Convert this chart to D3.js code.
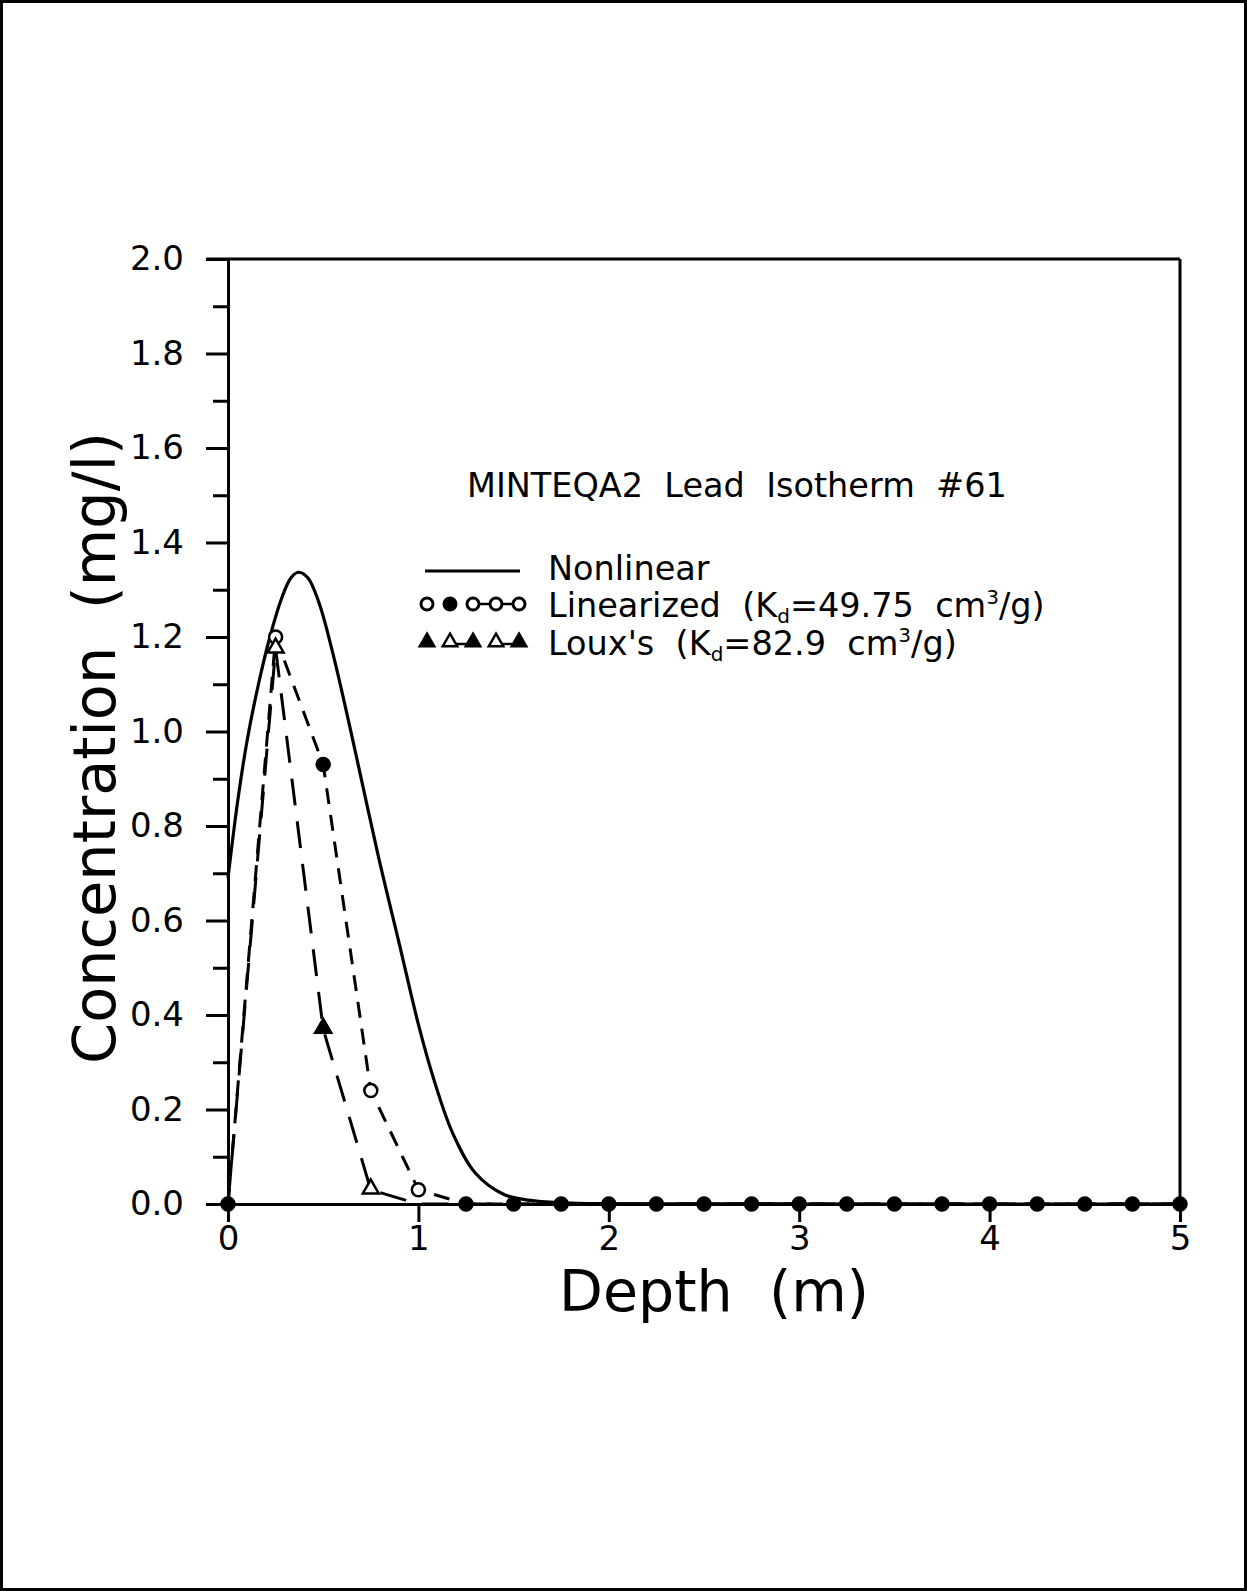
<!DOCTYPE html>
<html>
<head>
<meta charset="utf-8">
<script src="https://cdn.jsdelivr.net/npm/d3@7"></script>
<style>
  body { margin: 0; background: #fff; }
  svg { display: block; font-family: "DejaVu Sans", sans-serif; }
  text { white-space: pre; }
</style>
</head>
<body>
<svg id="chart" width="1247" height="1591"></svg>
<script>
// nonlinear isotherm curve
var nonlinDepth = [0, 0.05, 0.1, 0.16, 0.22, 0.28, 0.33, 0.37, 0.42, 0.48, 0.56, 0.67, 0.79, 0.9, 1.0, 1.08, 1.18, 1.30, 1.45, 1.60, 1.80, 2.1, 3.0, 5.0];
var nonlinConc  = [0.69, 0.85, 0.98, 1.10, 1.20, 1.28, 1.325, 1.337, 1.325, 1.27, 1.15, 0.955, 0.735, 0.55, 0.38, 0.265, 0.15, 0.065, 0.02, 0.007, 0.002, 0.0005, 0, 0];

// sampled depths for the two linear-Kd runs
var pointDepth = [0, 0.25, 0.5, 0.75, 1.0, 1.25, 1.5, 1.75, 2.0, 2.25, 2.5, 2.75, 3.0, 3.25, 3.5, 3.75, 4.0, 4.25, 4.5, 4.75, 5.0];
var linearizedConc = [0, 1.20, 0.93, 0.24, 0.03, 0, 0, 0, 0, 0, 0, 0, 0, 0, 0, 0, 0, 0, 0, 0, 0];
var louxConc       = [0, 1.175, 0.37, 0.03, 0, 0, 0, 0, 0, 0, 0, 0, 0, 0, 0, 0, 0, 0, 0, 0, 0];

var yMajorTicks = [0, 0.2, 0.4, 0.6, 0.8, 1.0, 1.2, 1.4, 1.6, 1.8, 2.0];
var yMinorTicks = [0.1, 0.3, 0.5, 0.7, 0.9, 1.1, 1.3, 1.5, 1.7, 1.9];
var xTicks = [0, 1, 2, 3, 4, 5];

var titleText = "MINTEQA2  Lead  Isotherm  #61";
var xTitle = "Depth  (m)";
var yTitle = "Concentration  (mg/l)";

var svg = d3.select("#chart");

// page border
svg.append("rect")
    .attr("x", 1.5).attr("y", 1.5)
    .attr("width", 1244).attr("height", 1588)
    .attr("fill", "none").attr("stroke", "#000").attr("stroke-width", 3);

var plotLeft = 228, plotRight = 1180, plotTop = 259, plotBottom = 1204;
var x = d3.scaleLinear().domain([0, 5]).range([plotLeft, plotRight]);
var y = d3.scaleLinear().domain([0, 2]).range([plotBottom, plotTop]);

// curves
var nonlin = nonlinDepth.map(function(d, i) { return [d, nonlinConc[i]]; });
var lin = pointDepth.map(function(d, i) { return [d, linearizedConc[i]]; });
var loux = pointDepth.map(function(d, i) { return [d, louxConc[i]]; });

var smooth = d3.line()
    .x(function(d) { return x(d[0]); })
    .y(function(d) { return y(d[1]); })
    .curve(d3.curveCatmullRom.alpha(0.5));
var straight = d3.line()
    .x(function(d) { return x(d[0]); })
    .y(function(d) { return y(d[1]); });

svg.append("path").datum(nonlin)
    .attr("d", smooth)
    .attr("fill", "none").attr("stroke", "#000").attr("stroke-width", 3.2);
svg.append("path").datum(lin)
    .attr("d", straight)
    .attr("fill", "none").attr("stroke", "#000").attr("stroke-width", 3)
    .attr("stroke-dasharray", "16,11");
svg.append("path").datum(loux)
    .attr("d", straight)
    .attr("fill", "none").attr("stroke", "#000").attr("stroke-width", 3)
    .attr("stroke-dasharray", "27,16");

// frame: top and right
svg.append("line")
    .attr("x1", plotLeft - 22).attr("x2", plotRight).attr("y1", plotTop).attr("y2", plotTop)
    .attr("stroke", "#000").attr("stroke-width", 3);
svg.append("line")
    .attr("x1", plotRight).attr("x2", plotRight).attr("y1", plotTop).attr("y2", plotBottom)
    .attr("stroke", "#000").attr("stroke-width", 3);

// y axis
var yAxis = d3.axisLeft(y)
    .tickValues(yMajorTicks)
    .tickFormat(d3.format(".1f"))
    .tickSizeInner(22)
    .tickSizeOuter(0)
    .tickPadding(22);
var gy = svg.append("g")
    .attr("transform", "translate(" + plotLeft + ",0)")
    .call(yAxis);
gy.select(".domain").attr("stroke-width", 3);
gy.selectAll(".tick line").attr("stroke-width", 3);
gy.selectAll(".tick text").attr("font-size", 34).attr("font-family", "DejaVu Sans").attr("fill", "#000");

var yMinor = d3.axisLeft(y)
    .tickValues(yMinorTicks)
    .tickFormat("")
    .tickSizeInner(15)
    .tickSizeOuter(0);
var gym = svg.append("g")
    .attr("transform", "translate(" + plotLeft + ",0)")
    .call(yMinor);
gym.select(".domain").remove();
gym.selectAll(".tick line").attr("stroke-width", 3);

// x axis
var xAxis = d3.axisBottom(x)
    .tickValues(xTicks)
    .tickFormat(d3.format("d"))
    .tickSizeInner(18)
    .tickSizeOuter(0)
    .tickPadding(4);
var gx = svg.append("g")
    .attr("transform", "translate(0," + plotBottom + ")")
    .call(xAxis);
gx.select(".domain").attr("stroke-width", 3);
gx.selectAll(".tick line").attr("stroke-width", 3);
gx.selectAll(".tick text").attr("font-size", 34).attr("font-family", "DejaVu Sans").attr("fill", "#000");

// markers
var linOpen = [1, 3, 4];
var louxOpen = [1, 3];
var tri = d3.symbol().type(d3.symbolTriangle).size(110);

svg.append("g").selectAll("circle")
    .data(lin).enter().append("circle")
    .attr("cx", function(d) { return x(d[0]); })
    .attr("cy", function(d) { return y(d[1]); })
    .attr("r", 6.5)
    .attr("fill", function(d, i) { return linOpen.indexOf(i) >= 0 ? "#fff" : "#000"; })
    .attr("stroke", "#000").attr("stroke-width", 2.5);

svg.append("g").selectAll("path")
    .data(loux.filter(function(d) { return d[1] > 0; })).enter().append("path")
    .attr("d", tri)
    .attr("transform", function(d) { return "translate(" + x(d[0]) + "," + (y(d[1]) - 1) + ")"; })
    .attr("fill", function(d) { return louxOpen.indexOf(pointDepth.indexOf(d[0])) >= 0 ? "#fff" : "#000"; })
    .attr("stroke", "#000").attr("stroke-width", 2.5);

// titles
svg.append("text")
    .attr("x", 467).attr("y", 497)
    .attr("font-size", 33.5)
    .text(titleText);

svg.append("text")
    .attr("x", 714).attr("y", 1311)
    .attr("text-anchor", "middle")
    .attr("font-size", 57)
    .text(xTitle);

svg.append("text")
    .attr("transform", "translate(115,748) rotate(-90)")
    .attr("text-anchor", "middle")
    .attr("font-size", 59)
    .text(yTitle);

// legend
var legX = 427, legStep = 23, textX = 548;
svg.append("line")
    .attr("x1", 425).attr("x2", 520).attr("y1", 571).attr("y2", 571)
    .attr("stroke", "#000").attr("stroke-width", 3);
svg.append("text").attr("x", textX).attr("y", 580).attr("font-size", 33.5).text("Nonlinear");

var legIdx = [0, 1, 2, 3, 4];
var linLegY = 604, louxLegY = 642;
[[2, 3], [3, 4]].forEach(function(p) {
    svg.append("line")
        .attr("x1", legX + p[0] * legStep).attr("x2", legX + p[1] * legStep)
        .attr("y1", linLegY).attr("y2", linLegY)
        .attr("stroke", "#000").attr("stroke-width", 2.5);
});
svg.append("g").selectAll("circle")
    .data(legIdx).enter().append("circle")
    .attr("cx", function(d) { return legX + d * legStep; })
    .attr("cy", linLegY)
    .attr("r", 6)
    .attr("fill", function(d) { return d === 1 ? "#000" : "#fff"; })
    .attr("stroke", "#000").attr("stroke-width", 3);

[[1, 2], [3, 4]].forEach(function(p) {
    svg.append("line")
        .attr("x1", legX + p[0] * legStep).attr("x2", legX + p[1] * legStep)
        .attr("y1", louxLegY + 2).attr("y2", louxLegY + 2)
        .attr("stroke", "#000").attr("stroke-width", 2.5);
});
svg.append("g").selectAll("path")
    .data(legIdx).enter().append("path")
    .attr("d", d3.symbol().type(d3.symbolTriangle).size(90))
    .attr("transform", function(d) { return "translate(" + (legX + d * legStep) + "," + louxLegY + ")"; })
    .attr("fill", function(d) { return (d === 1 || d === 3) ? "#fff" : "#000"; })
    .attr("stroke", "#000").attr("stroke-width", 2.5);

function kdLabel(yPos, name, kd) {
    var t = svg.append("text").attr("x", textX).attr("y", yPos).attr("font-size", 33.5);
    t.append("tspan").text(name + "  (K");
    t.append("tspan").attr("font-size", 20).attr("dy", 6).text("d");
    t.append("tspan").attr("dy", -6).text("=" + kd + "  cm");
    t.append("tspan").attr("font-size", 20).attr("dy", -13).text("3");
    t.append("tspan").attr("dy", 13).text("/g)");
}
kdLabel(617, "Linearized", "49.75");
kdLabel(655, "Loux's", "82.9");
</script>
</body>
</html>
